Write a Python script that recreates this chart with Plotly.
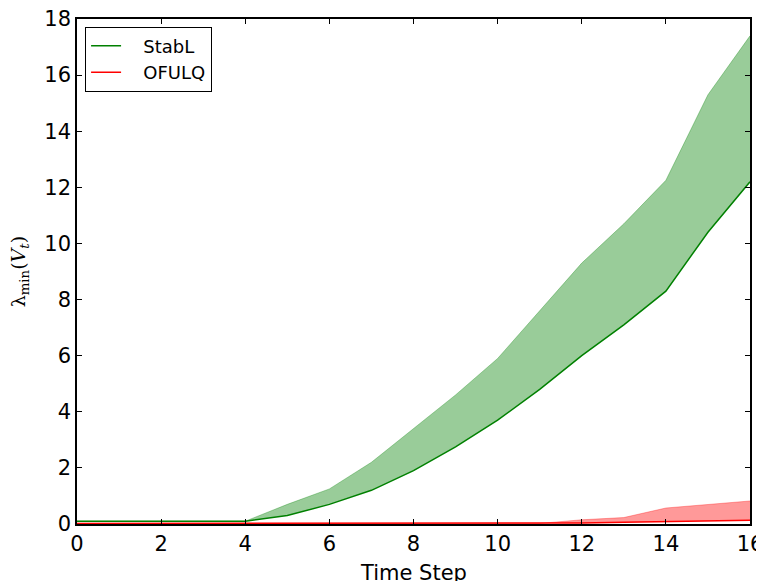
import plotly.graph_objects as go

steps = list(range(17))
stabl_lower = [0.1, 0.1, 0.1, 0.1, 0.1, 0.3, 0.7, 1.2, 1.9, 2.75, 3.7, 4.8, 6.0, 7.1, 8.3, 10.4, 12.2]
stabl_upper = [0.1, 0.1, 0.1, 0.1, 0.1, 0.7, 1.25, 2.2, 3.4, 4.6, 5.9, 7.6, 9.3, 10.7, 12.25, 15.3, 17.4]
ofulq_lower = [0.02, 0.02, 0.02, 0.02, 0.02, 0.02, 0.02, 0.02, 0.02, 0.02, 0.02, 0.02, 0.04, 0.06, 0.09, 0.11, 0.13]
ofulq_upper = [0.02, 0.02, 0.02, 0.02, 0.02, 0.02, 0.02, 0.02, 0.02, 0.02, 0.02, 0.02, 0.15, 0.23, 0.57, 0.7, 0.82]
x_ticks = [0, 2, 4, 6, 8, 10, 12, 14, 16]
y_ticks = [0, 2, 4, 6, 8, 10, 12, 14, 16, 18]

green = "#008000"
red = "#ff0000"
pad = "\u00a0\u00a0\u00a0"

fig = go.Figure()
fig.add_trace(go.Scatter(x=steps, y=stabl_upper, mode="lines", line=dict(width=0.8, color="rgba(0,128,0,0.4)"),
                         showlegend=False, hoverinfo="skip"))
fig.add_trace(go.Scatter(x=steps, y=stabl_lower, mode="lines", line=dict(width=0), fill="tonexty",
                         fillcolor="rgba(0,128,0,0.4)", showlegend=False, hoverinfo="skip"))
fig.add_trace(go.Scatter(x=steps, y=ofulq_upper, mode="lines", line=dict(width=0.8, color="rgba(255,0,0,0.4)"),
                         showlegend=False, hoverinfo="skip"))
fig.add_trace(go.Scatter(x=steps, y=ofulq_lower, mode="lines", line=dict(width=0), fill="tonexty",
                         fillcolor="rgba(255,0,0,0.4)", showlegend=False, hoverinfo="skip"))
fig.add_trace(go.Scatter(x=steps, y=stabl_lower, mode="lines", name=pad + "StabL", line=dict(color=green, width=1.5)))
fig.add_trace(go.Scatter(x=steps, y=ofulq_lower, mode="lines", name=pad + "OFULQ", line=dict(color=red, width=1.5)))

axis_common = dict(showline=True, linecolor="black", linewidth=1.5, mirror="ticks", ticks="inside",
                   ticklen=5, tickcolor="black", showgrid=False, zeroline=False, automargin=False,
                   ticklabeloverflow="allow",
                   tickfont=dict(family="DejaVu Sans", size=21, color="black"))

fig.update_layout(
    width=756, height=573,
    margin=dict(l=69, r=14, t=11, b=57),
    paper_bgcolor="white", plot_bgcolor="white",
    xaxis=dict(range=[0, 16], tickmode="array", tickvals=x_ticks, **axis_common),
    yaxis=dict(range=[0, 18], tickmode="array", tickvals=y_ticks, **axis_common),
    legend=dict(x=0.012, y=0.985, xanchor="left", yanchor="top", bordercolor="black", borderwidth=1,
                bgcolor="white", font=dict(family="DejaVu Sans", size=18, color="black"),
                traceorder="normal", tracegroupgap=2),
    showlegend=True,
    annotations=[
        dict(text="Time Step", xref="paper", yref="paper", x=0.5, y=-0.07, xanchor="center", yanchor="top",
             showarrow=False, font=dict(family="DejaVu Sans", size=21, color="black")),
        dict(text="λ<sub>min</sub>(<i>V<sub>t</sub></i>)", xref="paper", yref="paper",
             x=-0.085, y=0.5, xanchor="center", yanchor="middle", textangle=-90,
             showarrow=False, font=dict(family="DejaVu Serif", size=19, color="black")),
    ],
)

fig.write_html("out.html")
